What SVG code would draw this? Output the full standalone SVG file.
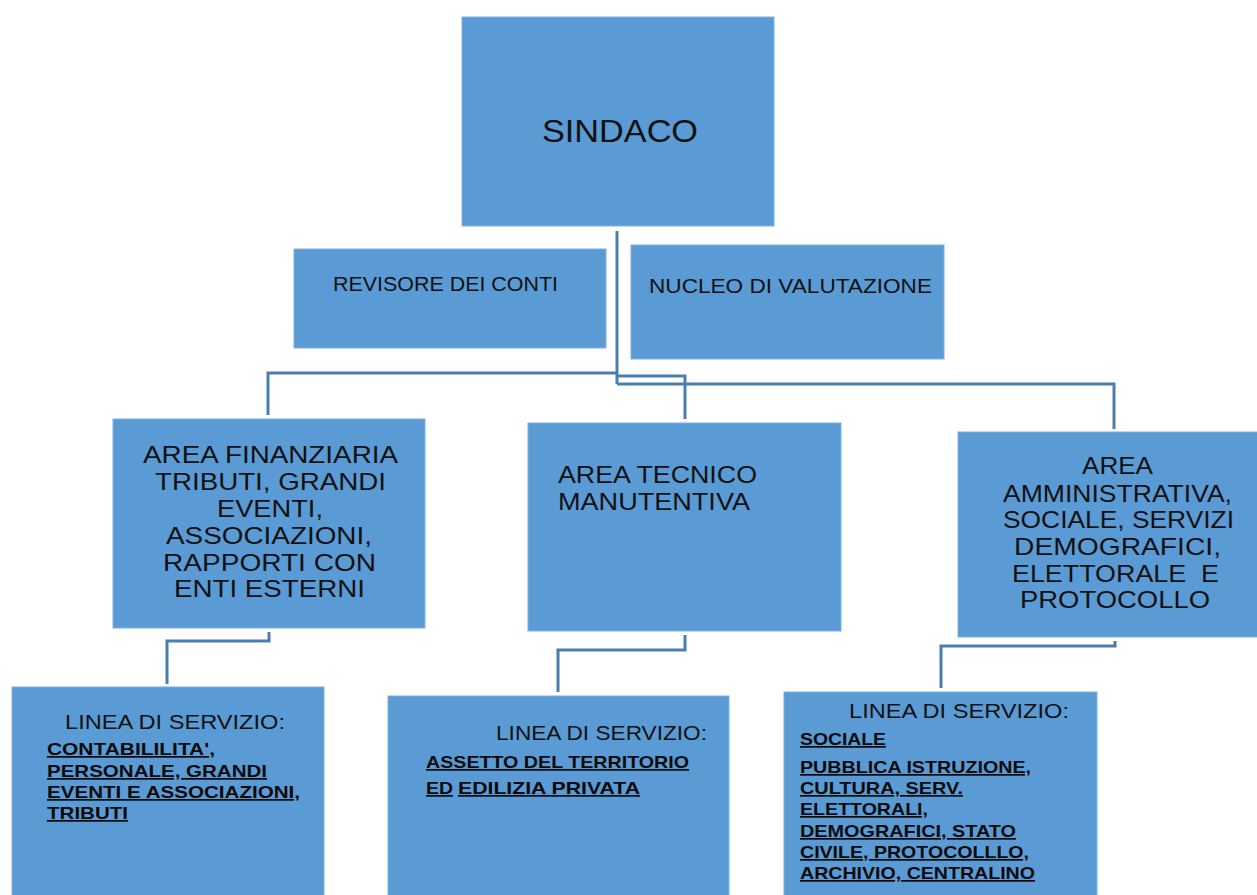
<svg xmlns="http://www.w3.org/2000/svg" width="1257" height="895" viewBox="0 0 1257 895">
<style>
.box{fill:#5B9BD5;stroke:#7FB0DE;stroke-width:1}
.t{font-family:"Liberation Sans",Arial,sans-serif;fill:#111}
.big{font-size:31px}
.area{font-size:24px}
.mid{font-size:21px}
.lin{font-size:20px}
.b{font-size:17px;font-weight:bold;text-decoration:underline;fill:#0a0a0a}
.con{fill:none;stroke:#4A7EB0;stroke-width:3}
</style>
<rect width="1257" height="895" fill="#ffffff"/>
<g id="connectors">
<path class="con" d="M617,231 V384"/>
<path class="con" d="M617,373 H268 V415"/>
<path class="con" d="M617,376 H685 V419"/>
<path class="con" d="M617,384 H1114 V429"/>
<path class="con" d="M269,632 V641 H167 V684"/>
<path class="con" d="M685,635 V650 H558 V692"/>
<path class="con" d="M1115,641 V646 H941 V688"/>
</g>
<g id="sindaco">
<rect class="box" x="462" y="17" width="312" height="209"/>
<text class="t big" x="542" y="142" textLength="156" lengthAdjust="spacingAndGlyphs">SINDACO</text>
</g>
<g id="revisore">
<rect class="box" x="294" y="249" width="312" height="99"/>
<text class="t mid" x="333" y="291" textLength="225" lengthAdjust="spacingAndGlyphs">REVISORE DEI CONTI</text>
</g>
<g id="nucleo">
<rect class="box" x="631" y="245" width="313" height="114"/>
<text class="t mid" x="649" y="293" textLength="283" lengthAdjust="spacingAndGlyphs">NUCLEO DI VALUTAZIONE</text>
</g>
<g id="area-finanziaria">
<rect class="box" x="113" y="419" width="312" height="209"/>
<text class="t area" x="143" y="463" textLength="255" lengthAdjust="spacingAndGlyphs">AREA FINANZIARIA</text>
<text class="t area" x="155" y="490" textLength="231" lengthAdjust="spacingAndGlyphs">TRIBUTI, GRANDI</text>
<text class="t area" x="217" y="517" textLength="106" lengthAdjust="spacingAndGlyphs">EVENTI,</text>
<text class="t area" x="166" y="544" textLength="206" lengthAdjust="spacingAndGlyphs">ASSOCIAZIONI,</text>
<text class="t area" x="163" y="571" textLength="213" lengthAdjust="spacingAndGlyphs">RAPPORTI CON</text>
<text class="t area" x="174" y="597" textLength="191" lengthAdjust="spacingAndGlyphs">ENTI ESTERNI</text>
</g>
<g id="area-tecnico">
<rect class="box" x="528" y="423" width="313" height="208"/>
<text class="t area" x="558" y="483" textLength="199" lengthAdjust="spacingAndGlyphs">AREA TECNICO</text>
<text class="t area" x="558" y="510" textLength="192" lengthAdjust="spacingAndGlyphs">MANUTENTIVA</text>
</g>
<g id="area-amministrativa">
<rect class="box" x="958" y="432" width="300" height="205"/>
<text class="t area" x="1082" y="474" textLength="71" lengthAdjust="spacingAndGlyphs">AREA</text>
<text class="t area" x="1003" y="502" textLength="229" lengthAdjust="spacingAndGlyphs">AMMINISTRATIVA,</text>
<text class="t area" x="1003" y="528" textLength="231" lengthAdjust="spacingAndGlyphs">SOCIALE, SERVIZI</text>
<text class="t area" x="1014" y="555" textLength="207" lengthAdjust="spacingAndGlyphs">DEMOGRAFICI,</text>
<text class="t area" x="1012" y="582" textLength="207" lengthAdjust="spacingAndGlyphs" xml:space="preserve">ELETTORALE  E</text>
<text class="t area" x="1020" y="608" textLength="190" lengthAdjust="spacingAndGlyphs">PROTOCOLLO</text>
</g>
<g id="linea-1">
<rect class="box" x="12" y="687" width="312" height="212"/>
<text class="t lin" x="65" y="729" textLength="220" lengthAdjust="spacingAndGlyphs">LINEA DI SERVIZIO:</text>
<text class="t b" x="47" y="755" textLength="168" lengthAdjust="spacingAndGlyphs">CONTABILILITA',</text>
<text class="t b" x="47" y="777" textLength="220" lengthAdjust="spacingAndGlyphs">PERSONALE, GRANDI</text>
<text class="t b" x="47" y="798" textLength="253" lengthAdjust="spacingAndGlyphs">EVENTI E ASSOCIAZIONI,</text>
<text class="t b" x="47" y="819" textLength="81" lengthAdjust="spacingAndGlyphs">TRIBUTI</text>
</g>
<g id="linea-2">
<rect class="box" x="388" y="696" width="341" height="203"/>
<text class="t lin" x="496" y="740" textLength="211" lengthAdjust="spacingAndGlyphs">LINEA DI SERVIZIO:</text>
<text class="t b" x="426" y="768" textLength="263" lengthAdjust="spacingAndGlyphs">ASSETTO DEL TERRITORIO</text>
<text class="t b" x="426" y="794" textLength="27" lengthAdjust="spacingAndGlyphs">ED</text>
<text class="t b" x="458" y="794" textLength="182" lengthAdjust="spacingAndGlyphs">EDILIZIA PRIVATA</text>
</g>
<g id="linea-3">
<rect class="box" x="784" y="692" width="313" height="207"/>
<text class="t lin" x="849" y="718" textLength="220" lengthAdjust="spacingAndGlyphs">LINEA DI SERVIZIO:</text>
<text class="t b" x="800" y="745" textLength="86" lengthAdjust="spacingAndGlyphs">SOCIALE</text>
<text class="t b" x="800" y="773" textLength="231" lengthAdjust="spacingAndGlyphs">PUBBLICA ISTRUZIONE,</text>
<text class="t b" x="800" y="794" textLength="163" lengthAdjust="spacingAndGlyphs">CULTURA, SERV.</text>
<text class="t b" x="800" y="815" textLength="128" lengthAdjust="spacingAndGlyphs">ELETTORALI,</text>
<text class="t b" x="800" y="837" textLength="216" lengthAdjust="spacingAndGlyphs">DEMOGRAFICI, STATO</text>
<text class="t b" x="800" y="858" textLength="229" lengthAdjust="spacingAndGlyphs">CIVILE, PROTOCOLLLO,</text>
<text class="t b" x="800" y="879" textLength="235" lengthAdjust="spacingAndGlyphs">ARCHIVIO, CENTRALINO</text>
</g>
</svg>
